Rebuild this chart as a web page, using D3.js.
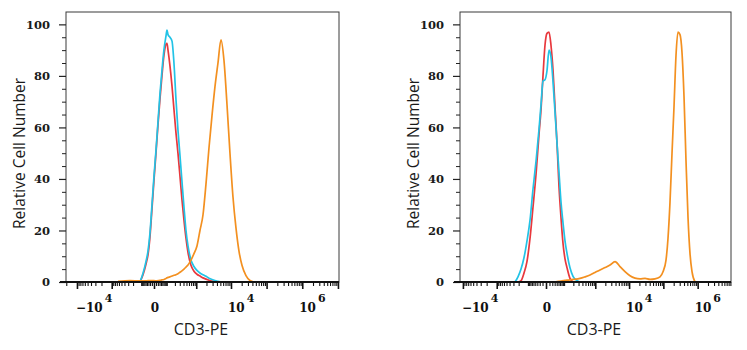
<!DOCTYPE html>
<html><head><meta charset="utf-8">
<script src="https://cdn.jsdelivr.net/npm/d3@7"></script>
<style>html,body{margin:0;padding:0;background:#fff;} svg{display:block;}</style>
</head><body>
<svg id="chart" width="747" height="350"></svg>
<script>
// ---------- data (CD3-PE fluorescence, relative cell number) ----------
const leftX = [-644,-259,-103,-72,-47,-33,-20.6,-9.6,0,9.6,20.6,33,47,63,82,92,103,126,154,184,219,259,305,356,415,482,558,692,854,1052,1291,1582,1935,2363,2883,3513,4279,5207,6334,7700,9360,11375,13820,16786,20377,26405,34195,44275];
const leftRed = [null,null,0,2.8,7,10.5,17.6,28.5,39.5,50,61,71,80,88,92.3,92.6,90,84,76,67,58,50,41,32,24,17,11.5,6.5,4.2,3,2.3,1.6,1.1,0.7,0.4,0.1,0,null,null,null,null,null,null,null,null,null,null,null];
const leftBlue = [null,null,0,3.4,8,12,19,30,41,51,62,73,82,90,95.5,97.8,96,95,93.5,85,71,59,49,39,29,20,14,8.5,6,4.5,3.5,2.8,2.2,1.5,1,0.6,0.3,0,null,null,null,null,null,null,null,null,null,null];
const leftOrange = [0.3,0.5,0.4,0.4,0.4,0.5,0.5,0.5,0.5,0.4,0.5,0.6,0.8,1,1.4,1.6,1.8,2,2.3,2.6,2.8,3.2,3.8,4.3,5,5.8,6.6,8.5,11,14,20,26,38,52,64.5,75.8,85,94,86,69,50,33,21,12,6.5,2.5,0.6,0];

const rightX = [-266,-211,-165,-128,-98,-73,-53,-36,-23,-15,-8.5,-2.6,2.6,8.5,15,23,31.5,41.5,53,66,81,98,118,152,195,247,334,483,690,981,1387,1955,2750,3861,5415,7589,10633,14888,20836,29161,40804,57084,79868,97698,119472,136648,156294,178752,204440,233814,267444,305862,349790,400064,457558,523298,598462,684494,836950];
const rightRed = [null,0,0.5,3.5,8,17,29,42,57,67,80,92,96.5,97,92,82,68,54,37,25,15,9,5.5,1.4,0,null,null,null,null,null,null,null,null,null,null,null,null,null,null,null,null,null,null,null,null,null,null,null,null,null,null,null,null,null,null,null,null,null,null];
const rightBlue = [0,2,5,9.5,16,24,36,47,59,69,78,78.5,82,90,87.4,77.5,66,54,42.5,31,23,16,11,5.5,2.2,0.8,0,null,null,null,null,null,null,null,null,null,null,null,null,null,null,null,null,null,null,null,null,null,null,null,null,null,null,null,null,null,null,null,null];
const rightOrange = [null,null,null,null,null,null,null,null,null,null,null,null,null,null,null,null,0,0.2,0.3,0.4,0.5,0.6,0.7,0.8,1,1.1,1.4,2,2.7,3.7,4.7,5.6,6.6,7.9,6,4,2.4,1.5,1.2,1.4,1,1.2,2,4,8.5,17,31,50,68,88,97,96,89,72,47,25,11,4,0];

const seriesNames = ["Isotype (red)", "Unstained (blue)", "CD3-PE (orange)"];
const seriesColors = ["#e8383d", "#22c3e6", "#f39020"];

const yMajorTicks = [0, 20, 40, 60, 80, 100];
const xMajorTicks = [-1e4, -1e3, 0, 1e3, 1e4, 1e5, 1e6, 1e7];
const xLabelValues = [-1e4, 0, 1e4, 1e6];
const xLabelBase = ["\u221210", "0", "10", "10"];
const xLabelExp = ["4", "", "4", "6"];
const yTitle = "Relative Cell Number";
const xTitle = "CD3-PE";

// ---------- layout ----------
const panels = [
  { x0: 66, x1: 339, domain: [-20360, 1.07e7], c: 70, xs: leftX, ys: [leftRed, leftBlue, leftOrange] },
  { x0: 460, x1: 731, domain: [-12160, 9.37e6], c: 38, xs: rightX, ys: [rightRed, rightBlue, rightOrange] }
];
const yTop = 12, yBottom = 282;
const yMax = 104.8;
const serif = "DejaVu Serif";
const sans = "Open Sans";

const svg = d3.select("#chart");

function minorTicks(domain) {
  const out = [];
  for (let k = 1; k <= 6; k++) {
    for (let m = 2; m <= 9; m++) {
      const v = m * Math.pow(10, k);
      if (v < domain[1]) out.push(v);
      if (-v > domain[0]) out.push(-v);
    }
  }
  [10, -10].forEach(v => out.push(v));
  return out;
}
const yMinorTicks = d3.range(0, 101, 5).filter(v => v % 20 !== 0);
const labelLayer = [];

panels.forEach(p => {
  const g = svg.append("g");
  const x = d3.scaleSymlog().constant(p.c).domain(p.domain).range([p.x0, p.x1]);
  const y = d3.scaleLinear().domain([0, yMax]).range([yBottom, yTop]);

  g.append("rect")
    .attr("x", p.x0).attr("y", yTop)
    .attr("width", p.x1 - p.x0).attr("height", yBottom - yTop)
    .attr("fill", "none").attr("stroke", "#3a3a3a").attr("stroke-width", 1);

  // curves
  const line = d3.line()
    .defined(d => d[1] !== null)
    .x(d => x(d[0])).y(d => y(d[1]))
    .curve(d3.curveMonotoneX);
  p.ys.forEach((vals, si) => {
    const pts = p.xs.map((xv, i) => [xv, vals[i]]);
    g.append("path")
      .attr("d", line(pts))
      .attr("fill", "none")
      .attr("stroke", seriesColors[si])
      .attr("stroke-width", 1.7)
      .attr("stroke-linejoin", "round")
      .attr("data-name", seriesNames[si]);
  });

  // y axis
  const yAxis = d3.axisLeft(y).tickValues(yMajorTicks).tickSize(7).tickPadding(9)
    .tickFormat(d3.format("d"));
  const ya = g.append("g").attr("transform", `translate(${p.x0},0)`).call(yAxis);
  ya.attr("font-family", serif).attr("font-size", 11.5).attr("font-weight", "bold");
  ya.select(".domain").remove();
  ya.selectAll("line").attr("stroke", "#222").attr("stroke-width", 1.2);
  ya.selectAll("text").attr("fill", "#1a1a1a");
  const yMinor = d3.axisLeft(y).tickValues(yMinorTicks).tickSize(4).tickFormat("");
  const ym = g.append("g").attr("transform", `translate(${p.x0},0)`).call(yMinor);
  ym.select(".domain").remove();
  ym.selectAll("text").remove();
  ym.selectAll("line").attr("stroke", "#222");

  // x axis ticks
  const xMajor = d3.axisBottom(x).tickValues(xMajorTicks.filter(v => v >= p.domain[0] && v <= p.domain[1]))
    .tickSize(7).tickFormat("");
  const xa = g.append("g").attr("transform", `translate(0,${yBottom})`).call(xMajor);
  xa.select(".domain").remove();
  xa.selectAll("text").remove();
  xa.selectAll("line").attr("stroke", "#111").attr("stroke-width", 1.6);
  const xMinor = d3.axisBottom(x).tickValues(minorTicks(p.domain)).tickSize(4).tickFormat("");
  const xm = g.append("g").attr("transform", `translate(0,${yBottom})`).call(xMinor);
  xm.select(".domain").remove();
  xm.selectAll("text").remove();
  xm.selectAll("line").attr("stroke", "#111").attr("stroke-width", 1.1);
  g.append("line").attr("x1", p.x0 - 6).attr("x2", p.x1).attr("y1", yBottom).attr("y2", yBottom)
    .attr("stroke", "#111").attr("stroke-width", 1.8);

  // titles
  g.append("text")
    .attr("transform", `translate(${p.x0 - 47.5},${153.5}) rotate(-90)`)
    .attr("text-anchor", "middle").attr("dominant-baseline", "central")
    .attr("font-family", sans).attr("font-size", 15.5).attr("fill", "#1a1a1a")
    .text(yTitle);
  g.append("text")
    .attr("x", (p.x0 + p.x1) / 2 - 1.5).attr("y", 335)
    .attr("text-anchor", "middle")
    .attr("font-family", sans).attr("font-size", 16).attr("fill", "#1a1a1a")
    .text(xTitle);

  xLabelValues.forEach((v, i) => labelLayer.push({ px: x(v), v: v, i: i }));
});

// x tick labels (power-of-ten style) in a top layer
const labelGroup = svg.append("g").attr("class", "x-labels");
labelLayer.forEach(d => {
  if (xLabelExp[d.i] === "") {
    labelGroup.append("text").attr("x", d.px + 1).attr("y", 312)
      .attr("font-family", serif).attr("font-weight", "bold").attr("fill", "#111111")
      .attr("text-anchor", "middle").attr("font-size", 12).text(xLabelBase[d.i]);
  } else {
    const startX = d.px - (d.v < 0 ? 1 : 3);
    const base = labelGroup.append("text").attr("x", startX).attr("y", 312)
      .attr("font-family", serif).attr("font-weight", "bold").attr("fill", "#111111")
      .attr("font-size", 12).text(xLabelBase[d.i]);
    const w = base.node().getComputedTextLength();
    labelGroup.append("text").attr("x", startX + w + 2).attr("y", 302)
      .attr("font-family", serif).attr("font-weight", "bold").attr("fill", "#111111")
      .attr("font-size", 11).text(xLabelExp[d.i]);
  }
});
</script>
</body></html>
